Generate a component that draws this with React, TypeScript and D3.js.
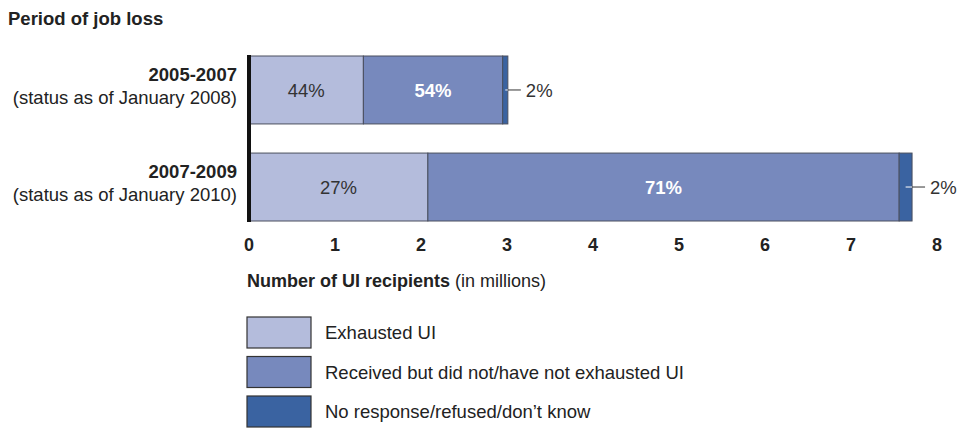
import * as d3 from "d3";

const periods = ["2005-2007", "2007-2009"];
const statusNotes = ["(status as of January 2008)", "(status as of January 2010)"];
const seriesNames = [
  "Exhausted UI",
  "Received but did not/have not exhausted UI",
  "No response/refused/don\u2019t know",
];
// millions of recipients per period
const exhausted = [1.33, 2.08];
const received = [1.62, 5.48];
const noResponse = [0.06, 0.15];
const shareLabels = [
  ["44%", "54%", "2%"],
  ["27%", "71%", "2%"],
];
const xTicks = [0, 1, 2, 3, 4, 5, 6, 7, 8];

const colors = ["#b4bcdc", "#7789bd", "#3a63a1"];
const font = "'Liberation Sans', Arial, sans-serif";

export default function App() {
  const width = 975;
  const height = 430;

  const rows = periods.map((p, i) => ({
    period: p,
    a: exhausted[i],
    b: received[i],
    c: noResponse[i],
  }));
  const stack = d3.stack<any>().keys(["a", "b", "c"])(rows);

  const x = d3.scaleLinear().domain([0, 8]).range([249, 937]);
  const y = d3.scaleBand().domain(periods).range([56, 221]).paddingInner(0.3);

  return (
    <svg
      width={width}
      height={height}
      style={{ position: "absolute", left: 0, top: 0, background: "#fff" }}
      fontFamily={font}
    >
      <text x={8} y={25} fontSize={18.5} fontWeight="bold" fill="#222">
        Period of job loss
      </text>

      {periods.map((p, i) => {
        const cy = (y(p) ?? 0) + y.bandwidth() / 2;
        return (
          <g key={p}>
            <text x={237} y={cy - 9} textAnchor="end" fontSize={18.5} fontWeight="bold" fill="#222">
              {p}
            </text>
            <text x={237} y={cy + 14} textAnchor="end" fontSize={18.5} fill="#222">
              {statusNotes[i]}
            </text>
          </g>
        );
      })}

      {stack.map((s, k) =>
        s.map((d, i) => {
          const x0 = x(d[0]);
          const x1 = x(d[1]);
          const y0 = y(periods[i]) ?? 0;
          return (
            <rect
              key={`${k}-${i}`}
              x={x0}
              y={y0}
              width={x1 - x0}
              height={y.bandwidth()}
              fill={colors[k]}
              stroke="#4a4f5e"
              strokeWidth={1}
            />
          );
        })
      )}

      {rows.map((r, i) => {
        const y0 = y(r.period) ?? 0;
        const cy = y0 + y.bandwidth() / 2;
        const end = x(r.a + r.b + r.c);
        const midDark = x(r.a + r.b + r.c / 2);
        return (
          <g key={r.period} fontSize={18.5}>
            <text x={x(r.a / 2)} y={cy + 7} textAnchor="middle" fill="#333">
              {shareLabels[i][0]}
            </text>
            <text
              x={x(r.a + r.b / 2)}
              y={cy + 7}
              textAnchor="middle"
              fill="#fff"
              fontWeight="bold"
            >
              {shareLabels[i][1]}
            </text>
            <line x1={midDark} x2={end} y1={cy} y2={cy} stroke="#fff" strokeWidth={1} />
            <line x1={end} x2={end + 13} y1={cy} y2={cy} stroke="#333" strokeWidth={1} />
            <text x={end + 18} y={cy + 7} fill="#333">
              {shareLabels[i][2]}
            </text>
          </g>
        );
      })}

      <line x1={x(0)} x2={x(0)} y1={55} y2={222} stroke="#111" strokeWidth={4} />

      {xTicks.map((t) => (
        <text
          key={t}
          x={x(t)}
          y={251}
          textAnchor="middle"
          fontSize={18}
          fontWeight="bold"
          fill="#222"
        >
          {t}
        </text>
      ))}

      <text x={247} y={287} fontSize={18} fill="#222">
        <tspan fontWeight="bold">Number of UI recipients</tspan>
        <tspan> (in millions)</tspan>
      </text>

      {seriesNames.map((n, k) => {
        const top = 317 + k * 39.5;
        return (
          <g key={n}>
            <rect x={247} y={top} width={64} height={31} fill={colors[k]} stroke="#333" strokeWidth={1.2} />
            <text x={325} y={top + 22} fontSize={18.5} fill="#222">
              {n}
            </text>
          </g>
        );
      })}
    </svg>
  );
}
